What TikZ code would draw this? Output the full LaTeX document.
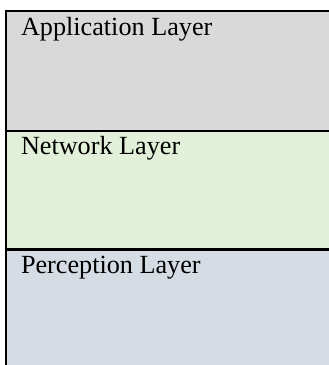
\documentclass[tikz,border=0pt]{standalone}
\usepackage{fontspec}
\setmainfont{Liberation Serif}
\definecolor{appgray}{HTML}{D9D9D9}
\definecolor{netgreen}{HTML}{E2EFD9}
\definecolor{pergray}{HTML}{D6DCE4}
\tikzset{
  band/.style={inner sep=0pt, outer sep=0pt, draw=none, anchor=north west},
  label/.style={inner sep=0pt, outer sep=0pt, anchor=base west, font=\fontsize{26.2}{30}\selectfont},
  rule/.style={line width=2.2pt, black}
}
\begin{document}
\begin{tikzpicture}[x=1pt,y=1pt]
\useasboundingbox (0,0) rectangle (329,365);
% bands (image y measured from top: y = 365 - img)
\node[band, fill=appgray, minimum width=323pt, minimum height=120pt] (app) at (6,354) {};
\node[band, fill=netgreen, minimum width=323pt, minimum height=118.5pt] (net) at (6,234) {};
\node[band, fill=pergray, minimum width=323pt, minimum height=115.5pt] (per) at (6,115.5) {};
% texts
\node[label] (tapp) at (21,329) {Application Layer};
\node[label] (tnet) at (21,210) {Network Layer};
\node[label] (tper) at (21,92) {Perception Layer};
% rules
\draw[rule] ([xshift=-1.1pt]app.north west) -- (app.north east);
\draw[rule] (net.north west) -- (net.north east);
\draw[rule] (per.north west) -- (per.north east);
\draw[rule] ([yshift=1.1pt]app.north west) -- (per.south west);
\end{tikzpicture}
\end{document}
